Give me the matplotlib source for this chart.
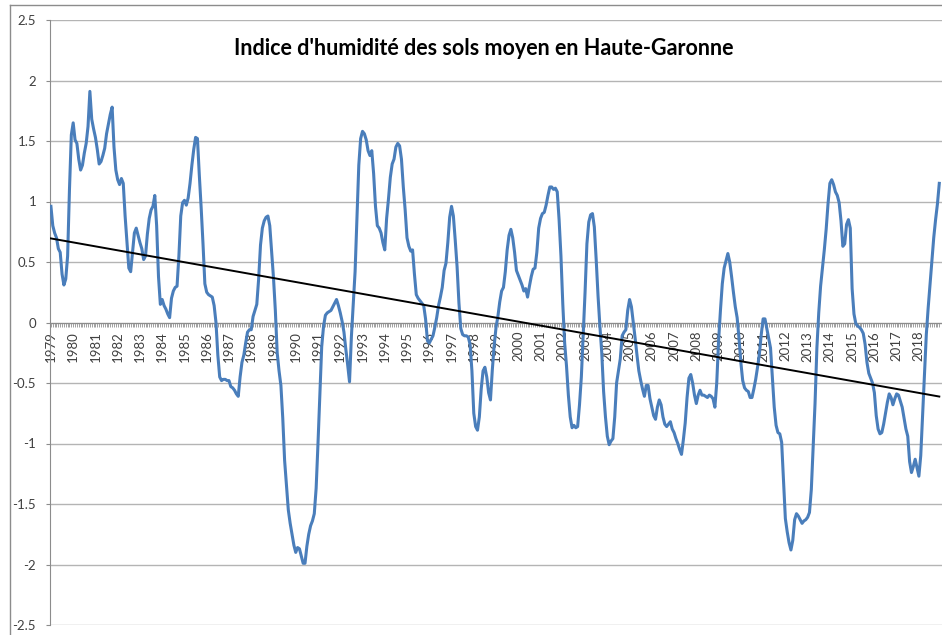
"""Indice d'humidité des sols moyen en Haute-Garonne, 1979-2018 (monthly)."""

import numpy as np
import matplotlib.pyplot as plt

# monthly soil moisture index, one row per year (Jan..Dec)
indice = [
    0.96, 0.80, 0.74, 0.70, 0.61, 0.58, 0.40, 0.31, 0.36, 0.55, 1.10, 1.55,  # 1979
    1.65, 1.51, 1.48, 1.35, 1.26, 1.30, 1.40, 1.48, 1.62, 1.91, 1.68, 1.60,  # 1980
    1.53, 1.43, 1.31, 1.33, 1.38, 1.44, 1.56, 1.64, 1.72, 1.78, 1.45, 1.26,  # 1981
    1.18, 1.14, 1.19, 1.15, 0.88, 0.66, 0.45, 0.42, 0.58, 0.74, 0.78, 0.72,  # 1982
    0.66, 0.61, 0.52, 0.55, 0.73, 0.86, 0.93, 0.96, 1.05, 0.80, 0.38, 0.15,  # 1983
    0.19, 0.14, 0.11, 0.07, 0.04, 0.20, 0.26, 0.29, 0.30, 0.55, 0.88, 0.99,  # 1984
    1.01, 0.97, 1.03, 1.15, 1.30, 1.43, 1.53, 1.52, 1.22, 0.95, 0.65, 0.32,  # 1985
    0.25, 0.23, 0.22, 0.21, 0.14, 0.00, -0.27, -0.45, -0.48, -0.47, -0.47, -0.48,  # 1986
    -0.48, -0.53, -0.54, -0.56, -0.59, -0.61, -0.45, -0.33, -0.27, -0.17, -0.08, -0.06,  # 1987
    -0.06, 0.05, 0.10, 0.15, 0.36, 0.64, 0.78, 0.84, 0.87, 0.88, 0.80, 0.58,  # 1988
    0.37, 0.10, -0.25, -0.40, -0.52, -0.79, -1.14, -1.35, -1.55, -1.66, -1.75, -1.84,  # 1989
    -1.90, -1.86, -1.87, -1.93, -1.99, -1.99, -1.85, -1.75, -1.68, -1.64, -1.58, -1.37,  # 1990
    -1.00, -0.60, -0.20, -0.03, 0.06, 0.08, 0.09, 0.10, 0.13, 0.16, 0.19, 0.14,  # 1991
    0.08, 0.01, -0.08, -0.22, -0.35, -0.49, -0.12, 0.15, 0.42, 0.85, 1.30, 1.52,  # 1992
    1.58, 1.56, 1.51, 1.42, 1.38, 1.42, 1.23, 0.96, 0.80, 0.78, 0.74, 0.66,  # 1993
    0.60, 0.86, 1.02, 1.20, 1.31, 1.35, 1.45, 1.48, 1.46, 1.35, 1.12, 0.93,  # 1994
    0.70, 0.63, 0.59, 0.60, 0.40, 0.23, 0.20, 0.18, 0.16, 0.14, 0.03, -0.15,  # 1995
    -0.17, -0.14, -0.11, -0.04, 0.04, 0.14, 0.21, 0.29, 0.43, 0.49, 0.66, 0.87,  # 1996
    0.96, 0.88, 0.68, 0.46, 0.16, -0.05, -0.10, -0.11, -0.11, -0.12, -0.18, -0.40,  # 1997
    -0.75, -0.86, -0.89, -0.78, -0.55, -0.40, -0.37, -0.45, -0.58, -0.64, -0.39, -0.19,  # 1998
    -0.04, 0.05, 0.17, 0.26, 0.29, 0.42, 0.60, 0.72, 0.77, 0.70, 0.58, 0.43,  # 1999
    0.39, 0.35, 0.31, 0.26, 0.28, 0.21, 0.30, 0.38, 0.44, 0.45, 0.58, 0.78,  # 2000
    0.86, 0.90, 0.91, 0.97, 1.05, 1.12, 1.12, 1.10, 1.11, 1.08, 0.85, 0.55,  # 2001
    0.15, -0.17, -0.36, -0.60, -0.78, -0.87, -0.85, -0.87, -0.86, -0.68, -0.45, -0.10,  # 2002
    0.25, 0.65, 0.83, 0.89, 0.90, 0.79, 0.52, 0.22, -0.03, -0.25, -0.57, -0.78,  # 2003
    -0.94, -1.01, -0.98, -0.96, -0.78, -0.50, -0.40, -0.30, -0.11, -0.08, -0.06, 0.10,  # 2004
    0.19, 0.13, 0.00, -0.13, -0.27, -0.40, -0.48, -0.55, -0.61, -0.52, -0.52, -0.63,  # 2005
    -0.70, -0.77, -0.80, -0.70, -0.64, -0.68, -0.78, -0.84, -0.86, -0.84, -0.82, -0.88,  # 2006
    -0.91, -0.96, -1.00, -1.05, -1.09, -0.97, -0.83, -0.62, -0.46, -0.43, -0.50, -0.60,  # 2007
    -0.67, -0.60, -0.56, -0.60, -0.60, -0.61, -0.62, -0.60, -0.61, -0.63, -0.70, -0.50,  # 2008
    -0.15, 0.10, 0.32, 0.45, 0.51, 0.57, 0.50, 0.38, 0.25, 0.13, 0.04, -0.13,  # 2009
    -0.33, -0.48, -0.54, -0.56, -0.57, -0.62, -0.62, -0.55, -0.47, -0.37, -0.26, -0.10,  # 2010
    0.03, 0.03, -0.05, -0.13, -0.21, -0.45, -0.70, -0.85, -0.91, -0.92, -0.99, -1.30,  # 2011
    -1.62, -1.73, -1.82, -1.88, -1.80, -1.63, -1.58, -1.60, -1.63, -1.66, -1.64, -1.63,  # 2012
    -1.61, -1.57, -1.38, -1.02, -0.67, -0.21, 0.08, 0.30, 0.45, 0.60, 0.77, 0.98,  # 2013
    1.15, 1.18, 1.14, 1.08, 1.05, 0.99, 0.84, 0.63, 0.65, 0.81, 0.85, 0.78,  # 2014
    0.28, 0.07, -0.01, -0.03, -0.04, -0.06, -0.09, -0.18, -0.33, -0.42, -0.46, -0.50,  # 2015
    -0.58, -0.77, -0.88, -0.92, -0.91, -0.84, -0.75, -0.66, -0.59, -0.62, -0.68, -0.63,  # 2016
    -0.59, -0.60, -0.65, -0.70, -0.79, -0.88, -0.94, -1.15, -1.24, -1.19, -1.13, -1.20,  # 2017
    -1.27, -1.10, -0.77, -0.43, -0.10, 0.12, 0.31, 0.50, 0.70, 0.85, 0.98, 1.15,  # 2018
]
years = list(range(1979, 2019))
title = "Indice d'humidité des sols moyen en Haute-Garonne"

plt.rcParams['font.family'] = ['Lato', 'DejaVu Sans']

months = np.arange(len(indice))
slope, intercept = np.polyfit(months, indice, 1)

fig = plt.figure(figsize=(9.42, 6.35), dpi=100)
# plot area: from x=50 px, runs a little past the right edge (screenshot is cropped)
ax = fig.add_axes([50 / 942, 10 / 635, 893 / 942, 605 / 635])

ax.set_ylim(-2.5, 2.5)
ax.set_xlim(-0.5, 481)
ax.set_yticks(np.arange(-2.5, 2.51, 0.5))
ax.set_yticklabels([f"{v:g}" for v in np.arange(-2.5, 2.51, 0.5)])
ax.grid(True, axis='y', color='#b4b4b4', linewidth=1.0)
ax.set_axisbelow(True)

ax.plot(months, indice, color='#4a7ebb', linewidth=2.2, zorder=3)
ax.plot(months, intercept + slope * months, color='black', linewidth=1.4, zorder=4)

# category axis crossing at zero, a tick for every month
ax.spines['bottom'].set_position(('data', 0))
ax.spines['bottom'].set_color('#8c8c8c')
ax.spines['left'].set_color('#8c8c8c')
ax.spines['top'].set_visible(False)
ax.spines['right'].set_visible(False)
ax.set_xticks(months[::12])
ax.set_xticklabels([str(y) for y in years], rotation=90)
ax.set_xticks(months, minor=True)
ax.tick_params(axis='x', which='both', direction='out', length=3,
               color='#a0a0a0', width=0.7, pad=3, labelsize=9.5, labelcolor='#404040')
ax.tick_params(axis='y', length=3, color='#8c8c8c', pad=7,
               labelsize=9.5, labelcolor='#404040')

fig.text(0.514, 0.924, title, ha='center', va='center',
         fontsize=15.5, fontweight='bold', color='black')

# outer chart frame (left and top edges visible in the crop)
fig.add_artist(plt.Line2D([10 / 942, 10 / 942], [0, 630 / 635],
                          color='#8c8c8c', linewidth=1.0))
fig.add_artist(plt.Line2D([10 / 942, 1], [630 / 635, 630 / 635],
                          color='#8c8c8c', linewidth=1.0))

fig.savefig('out.png', dpi=100)
